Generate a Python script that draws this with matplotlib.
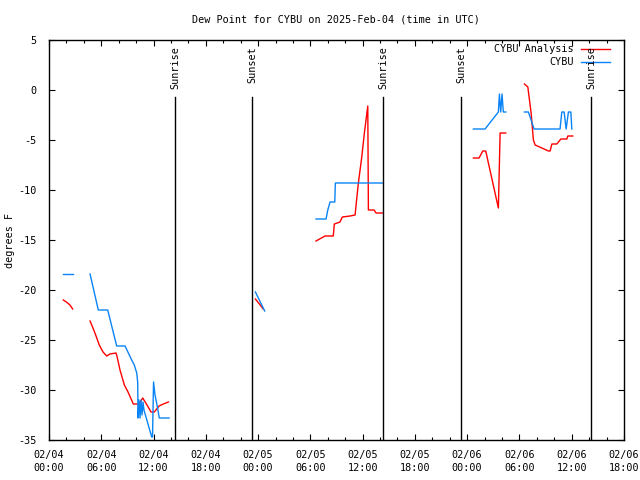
import matplotlib
matplotlib.use("Agg")
import matplotlib.pyplot as plt
import matplotlib.transforms as mtransforms
import numpy as np

# ---- data (hours since 2025-02-04 00:00 UTC, dew point in F) ----
# Analysis (red) segments
ana_t1 = [1.64, 2.0, 2.4, 2.72]
ana_v1 = [-21.0, -21.2, -21.5, -21.9]
ana_t2 = [4.71, 5.05, 5.4, 5.77, 6.2, 6.62, 7.0, 7.69, 7.8, 8.15, 8.65, 9.07, 9.68,
          10.33, 10.76, 11.25, 11.71, 12.09, 12.63, 13.12, 13.7]
ana_v2 = [-23.1, -23.8, -24.6, -25.5, -26.2, -26.6, -26.4, -26.3, -26.6, -28.0, -29.5,
          -30.2, -31.4, -31.4, -30.8, -31.5, -32.2, -32.2, -31.6, -31.4, -31.2]
ana_t3 = [23.69, 24.6]
ana_v3 = [-20.9, -21.9]
ana_t4 = [30.65, 31.68, 32.63, 32.75, 33.4, 33.67, 34.56, 35.13, 35.51, 35.9, 36.2,
          36.59, 36.66, 37.31, 37.54, 38.38]
ana_v4 = [-15.1, -14.6, -14.6, -13.4, -13.2, -12.7, -12.6, -12.5, -9.3, -6.7, -4.3,
          -1.6, -12.0, -12.0, -12.3, -12.3]
ana_t5 = [48.71, 49.36, 49.79, 50.13, 51.58, 51.78, 52.43]
ana_v5 = [-6.8, -6.8, -6.1, -6.1, -11.8, -4.3, -4.3]
ana_t6 = [54.57, 54.96, 55.34, 55.6, 55.8, 56.57, 57.33, 57.52, 57.72, 58.29, 58.75,
          59.44, 59.55, 60.12]
ana_v6 = [0.6, 0.3, -2.3, -5.0, -5.5, -5.8, -6.1, -6.1, -5.4, -5.4, -4.9, -4.9, -4.6, -4.6]

# Observations (blue) segments
obs_t1 = [1.57, 2.72]
obs_v1 = [-18.4, -18.4]
obs_t2 = [4.71, 5.66, 6.74, 7.77, 8.73, 9.49, 9.79, 10.07, 10.18, 10.22, 10.33, 10.45,
          10.56, 10.68, 10.79, 10.9, 11.79, 11.88, 12.0, 12.17, 12.4, 12.66, 13.78]
obs_v2 = [-18.4, -22.0, -22.0, -25.6, -25.6, -27.0, -27.5, -28.3, -29.2, -32.8, -31.0,
          -32.8, -31.0, -32.5, -31.2, -32.0, -34.7, -34.7, -29.2, -30.5, -31.5, -32.8, -32.8]
obs_t3 = [23.69, 24.76]
obs_v3 = [-20.2, -22.1]
obs_t4 = [30.65, 31.8, 32.0, 32.26, 32.8, 32.87, 38.38]
obs_v4 = [-12.9, -12.9, -12.0, -11.2, -11.2, -9.3, -9.3]
obs_t5 = [48.71, 50.05, 51.58, 51.7, 51.85, 52.0, 52.15, 52.43]
obs_v5 = [-3.9, -3.9, -2.2, -0.4, -2.2, -0.4, -2.2, -2.2]
obs_t6 = [54.57, 55.03, 55.68, 58.66, 58.86, 59.13, 59.36, 59.62, 59.9, 60.01]
obs_v6 = [-2.2, -2.2, -3.9, -3.9, -2.2, -2.2, -3.9, -2.2, -2.2, -3.9]

sun_times = [14.47, 23.3, 38.35, 47.3, 62.23]
sun_labels = ["Sunrise", "Sunset", "Sunrise", "Sunset", "Sunrise"]

xtick_pos = list(range(0, 67, 6))
xtick_labels = ["02/04\n00:00", "02/04\n06:00", "02/04\n12:00", "02/04\n18:00",
                "02/05\n00:00", "02/05\n06:00", "02/05\n12:00", "02/05\n18:00",
                "02/06\n00:00", "02/06\n06:00", "02/06\n12:00", "02/06\n18:00"]
ytick_pos = list(range(-35, 6, 5))

title = "Dew Point for CYBU on 2025-Feb-04 (time in UTC)"
ylabel = "degrees F"
legend_labels = ["CYBU Analysis", "CYBU"]

RED = "#ff0000"
BLUE = "#0a84f5"
FONT = "DejaVu Sans Mono"
FS = 7.3

plt.rcParams["font.family"] = FONT

fig = plt.figure(figsize=(6.4, 4.8), dpi=100)
ax = fig.add_axes([49 / 640, 40 / 480, 575 / 640, 400 / 480])

lw = 1.0
for t, v in [(ana_t1, ana_v1), (ana_t2, ana_v2), (ana_t3, ana_v3),
             (ana_t4, ana_v4), (ana_t5, ana_v5), (ana_t6, ana_v6)]:
    ax.plot(t, v, color=RED, lw=lw)
for t, v in [(obs_t1, obs_v1), (obs_t2, obs_v2), (obs_t3, obs_v3),
             (obs_t4, obs_v4), (obs_t5, obs_v5), (obs_t6, obs_v6)]:
    ax.plot(t, v, color=BLUE, lw=lw)

trans = mtransforms.blended_transform_factory(ax.transData, ax.transAxes)
for st, lab in zip(sun_times, sun_labels):
    ax.plot([st, st], [0, 0.8575], color="black", lw=1.0, transform=trans)
    ax.text(st, 0.985, lab, rotation=90, ha="center", va="top", fontsize=FS,
            transform=trans)

ax.set_xlim(0, 66)
ax.set_ylim(-35, 5)
ax.set_xticks(xtick_pos)
ax.set_xticklabels(xtick_labels, fontsize=FS, linespacing=1.35)
ax.set_xticks(np.arange(0, 67, 2), minor=True)
ax.set_yticks(ytick_pos)
ax.set_yticklabels([str(y) for y in ytick_pos], fontsize=FS)
ax.tick_params(which="major", direction="in", length=4, width=0.8,
               top=True, right=True, pad=7)
ax.tick_params(which="minor", direction="in", length=2.2, width=0.8,
               top=True, right=True)
ax.tick_params(axis="y", which="major", pad=9)
for s in ax.spines.values():
    s.set_linewidth(1.0)

fig.text(336 / 640, 1 - 20 / 480, title, ha="center", va="center", fontsize=FS)
fig.text(10 / 640, 0.5, ylabel, rotation=90, ha="center", va="center", fontsize=FS)

# legend (gnuplot style)
def ax_from_px(px, py):
    return ((px - 49) / 575, (440 - py) / 400)

for i, (lab, col) in enumerate(zip(legend_labels, [RED, BLUE])):
    py = 49.5 + 13 * i
    tx, ty = ax_from_px(574, py)
    ax.text(tx, ty, lab, ha="right", va="center", fontsize=FS, transform=ax.transAxes)
    x0, y0 = ax_from_px(581, py)
    x1, _ = ax_from_px(610, py)
    ax.plot([x0, x1], [y0, y0], color=col, lw=lw, transform=ax.transAxes)

fig.savefig("out.png", dpi=100)
